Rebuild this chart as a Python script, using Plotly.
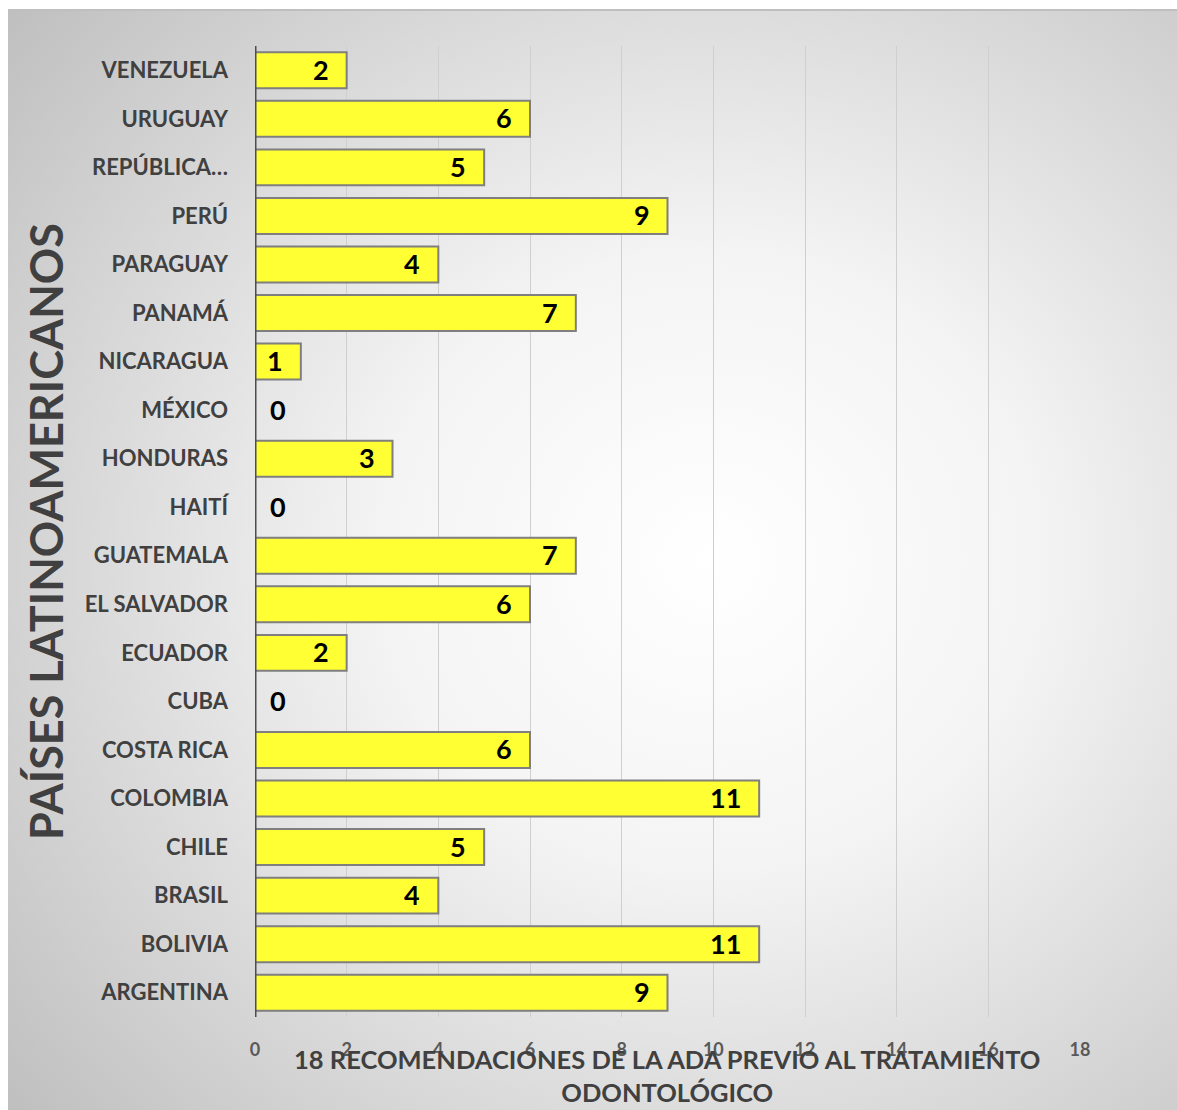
import base64
import plotly.graph_objects as go

# Countries listed bottom-to-top as they appear on the category axis
paises = [
    "ARGENTINA", "BOLIVIA", "BRASIL", "CHILE", "COLOMBIA", "COSTA RICA",
    "CUBA", "ECUADOR", "EL SALVADOR", "GUATEMALA", "HAITÍ", "HONDURAS",
    "MÉXICO", "NICARAGUA", "PANAMÁ", "PARAGUAY", "PERÚ", "REPÚBLICA…",
    "URUGUAY", "VENEZUELA",
]
recomendaciones = [9, 11, 4, 5, 11, 6, 0, 2, 6, 7, 0, 3, 0, 1, 7, 4, 9, 5, 6, 2]
x_ticks = [0, 2, 4, 6, 8, 10, 12, 14, 16, 18]

W, H = 1177, 1110
ML, MR, MT, MB = 255, 97, 46, 93
FONT = "Lato"
DARK = "#404040"

# Radial grey-to-white backdrop for the chart frame
svg = (
    '<svg xmlns="http://www.w3.org/2000/svg" width="1169" height="1100">'
    '<defs><radialGradient id="g" cx="0.6" cy="0.5" r="0.8">'
    '<stop offset="0" stop-color="#ffffff"/>'
    '<stop offset="0.35" stop-color="#f4f4f4"/>'
    '<stop offset="1" stop-color="#bdbdbd"/>'
    '</radialGradient></defs>'
    '<rect width="1169" height="1100" fill="url(#g)"/></svg>'
)
bg_src = "data:image/svg+xml;base64," + base64.b64encode(svg.encode()).decode()

pw, ph = W - ML - MR, H - MT - MB


def px_x(p):
    return (p - ML) / pw


def px_y(p):
    return (H - MB - p) / ph


fig = go.Figure(
    go.Bar(
        x=recomendaciones,
        y=paises,
        orientation="h",
        width=0.74,
        marker=dict(color="#ffff33", line=dict(color="#7f7f7f", width=2)),
        hoverinfo="x+y",
    )
)

# Value labels: inside the bar end, or just right of the axis for zeros
annotations = []
for pais, v in zip(paises, recomendaciones):
    annotations.append(
        dict(
            x=v, y=pais, xref="x", yref="y", text=str(v), showarrow=False,
            xanchor="left" if v == 0 else "right",
            xshift=13 if v == 0 else -16, yshift=1,
            font=dict(family=FONT, size=27, color="#000000", weight="bold"),
        )
    )

annotations += [
    dict(
        text="PAÍSES LATINOAMERICANOS", textangle=-90,
        xref="paper", yref="paper", x=px_x(46), y=px_y(532),
        xanchor="center", yanchor="middle", showarrow=False,
        font=dict(family=FONT, size=45, color=DARK, weight="bold"),
    ),
    dict(
        text="18 RECOMENDACIONES DE LA ADA PREVIO AL TRATAMIENTO<br>ODONTOLÓGICO",
        xref="paper", yref="paper", x=px_x(667), y=px_y(1075),
        xanchor="center", yanchor="middle", showarrow=False,
        font=dict(family=FONT, size=25.5, color=DARK, weight="bold"),
    ),
]

fig.update_layout(
    width=W,
    height=H,
    margin=dict(l=ML, r=MR, t=MT, b=MB),
    paper_bgcolor="#ffffff",
    plot_bgcolor="rgba(0,0,0,0)",
    showlegend=False,
    images=[
        dict(
            source=bg_src, xref="paper", yref="paper",
            x=px_x(8), y=px_y(10), sizex=(W - 8) / pw, sizey=(H - 10) / ph,
            xanchor="left", yanchor="top", sizing="stretch", layer="below",
        )
    ],
    shapes=[
        dict(type="line", xref="paper", yref="paper",
             x0=px_x(8), x1=px_x(W), y0=px_y(10), y1=px_y(10),
             line=dict(color="#bfbfbf", width=2)),
        # Vertical category axis line at zero
        dict(type="line", xref="x", yref="paper", x0=0, x1=0, y0=0, y1=1,
             line=dict(color="#4d4d4d", width=3), layer="above"),
    ],
    xaxis=dict(
        range=[0, 18],
        tickvals=x_ticks,
        showgrid=True,
        gridcolor="#cfcfcf",
        gridwidth=1,
        zeroline=False,
        showline=False,
        ticks="",
        ticklabelstandoff=20,
        tickfont=dict(family=FONT, size=18, color="#595959", weight="bold"),
    ),
    yaxis=dict(
        categoryorder="array",
        categoryarray=paises,
        showgrid=False,
        zeroline=False,
        showline=False,
        ticks="",
        ticklabelstandoff=26,
        tickfont=dict(family=FONT, size=22, color=DARK, weight="bold"),
    ),
    annotations=annotations,
)

fig.write_html("out.html")
